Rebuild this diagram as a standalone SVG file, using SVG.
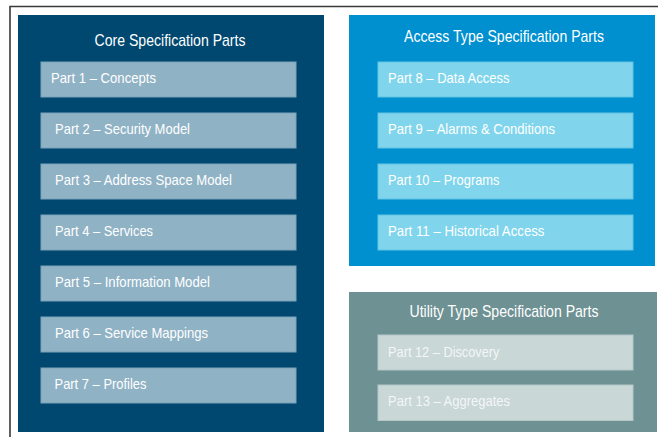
<svg xmlns="http://www.w3.org/2000/svg" width="658" height="437" viewBox="0 0 658 437">
<style>
text{font-family:"Liberation Sans",Arial,Helvetica,sans-serif;fill:#ffffff}
.title{font-size:17px;text-anchor:middle}
.part{font-size:15px}
.cp{fill:#8fb2c5;stroke:#7aa3b9;stroke-width:1}
.ap{fill:#80d5ec;stroke:#62c3e3;stroke-width:1}
.up{fill:#c9d7d7;stroke:#b5c8c8;stroke-width:1}
.up-t{fill:#f3f6f6}
</style>
<rect width="658" height="437" fill="#ffffff"/>
<path d="M10,437 V6.5 H658" fill="none" stroke="#3a3a3a" stroke-width="1.6"/>
<g id="core">
<rect x="18" y="15" width="306" height="417" fill="#004870"/>
<text class="title" x="170" y="45.5" textLength="151" lengthAdjust="spacingAndGlyphs">Core Specification Parts</text>
</g>
<g id="part1"><rect class="cp" x="41" y="62" width="255" height="35"/><text class="part" x="51" y="83" textLength="105" lengthAdjust="spacingAndGlyphs">Part 1 – Concepts</text></g>
<g id="part2"><rect class="cp" x="41" y="113" width="255" height="35"/><text class="part" x="55" y="134" textLength="135" lengthAdjust="spacingAndGlyphs">Part 2 – Security Model</text></g>
<g id="part3"><rect class="cp" x="41" y="164" width="255" height="35"/><text class="part" x="55" y="185" textLength="177" lengthAdjust="spacingAndGlyphs">Part 3 – Address Space Model</text></g>
<g id="part4"><rect class="cp" x="41" y="215" width="255" height="35"/><text class="part" x="55" y="236" textLength="98" lengthAdjust="spacingAndGlyphs">Part 4 – Services</text></g>
<g id="part5"><rect class="cp" x="41" y="266" width="255" height="35"/><text class="part" x="55" y="287" textLength="155" lengthAdjust="spacingAndGlyphs">Part 5 – Information Model</text></g>
<g id="part6"><rect class="cp" x="41" y="317" width="255" height="35"/><text class="part" x="55" y="338" textLength="153" lengthAdjust="spacingAndGlyphs">Part 6 – Service Mappings</text></g>
<g id="part7"><rect class="cp" x="41" y="368" width="255" height="35"/><text class="part" x="54.5" y="389" textLength="92" lengthAdjust="spacingAndGlyphs">Part 7 – Profiles</text></g>
<g id="access">
<rect x="349" y="15" width="306" height="251" fill="#008fcf"/>
<text class="title" x="504" y="41.7" textLength="200" lengthAdjust="spacingAndGlyphs">Access Type Specification Parts</text>
</g>
<g id="part8"><rect class="ap" x="378" y="62" width="255" height="35"/><text class="part" x="388" y="83" textLength="121.5" lengthAdjust="spacingAndGlyphs">Part 8 – Data Access</text></g>
<g id="part9"><rect class="ap" x="378" y="113" width="255" height="35"/><text class="part" x="388" y="134" textLength="167" lengthAdjust="spacingAndGlyphs">Part 9 – Alarms &amp; Conditions</text></g>
<g id="part10"><rect class="ap" x="378" y="164" width="255" height="35"/><text class="part" x="388" y="185" textLength="111.5" lengthAdjust="spacingAndGlyphs">Part 10 – Programs</text></g>
<g id="part11"><rect class="ap" x="378" y="215" width="255" height="35"/><text class="part" x="388" y="236" textLength="156.5" lengthAdjust="spacingAndGlyphs">Part 11 – Historical Access</text></g>
<g id="utility">
<rect x="349" y="292" width="308" height="140" fill="#6e9193"/>
<text class="title" x="504" y="316.7" textLength="189" lengthAdjust="spacingAndGlyphs">Utility Type Specification Parts</text>
</g>
<g id="part12"><rect class="up" x="378" y="335" width="255" height="35"/><text class="part up-t" x="388" y="356.5" textLength="111.5" lengthAdjust="spacingAndGlyphs">Part 12 – Discovery</text></g>
<g id="part13"><rect class="up" x="378" y="385" width="255" height="35.5"/><text class="part up-t" x="388" y="406" textLength="122" lengthAdjust="spacingAndGlyphs">Part 13 – Aggregates</text></g>
<g id="connectors"></g>
</svg>
